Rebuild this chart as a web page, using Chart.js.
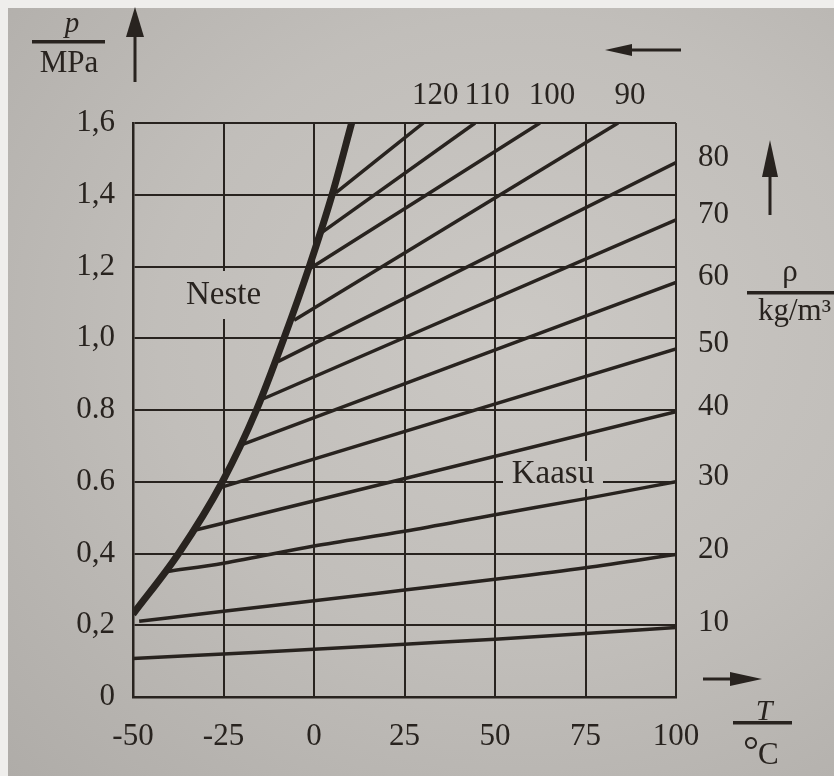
<!DOCTYPE html>
<html>
<head>
<meta charset="utf-8">
<title>p-T-kaavio</title>
<script src="https://cdn.jsdelivr.net/npm/chart.js@4.4.1/dist/chart.umd.min.js"></script>
<style>
  html, body { margin: 0; padding: 0; background: #efeeec; overflow: hidden; }
  #paper {
    position: absolute; left: 8px; top: 8px; width: 826px; height: 768px;
    background: radial-gradient(ellipse at 62% 42%, #cbc8c4 0%, #c1beba 50%, #afaca8 100%);
  }
  #chart { position: absolute; left: 0; top: 0; }
</style>
</head>
<body>
<div id="paper"></div>
<canvas id="chart" width="834" height="776"></canvas>
<script>
// axes
const xTicks = [-50, -25, 0, 25, 50, 75, 100];
const yTicks = [0, 0.2, 0.4, 0.6, 0.8, 1.0, 1.2, 1.4, 1.6];
const yTickLabels = ['0', '0,2', '0,4', '0.6', '0.8', '1,0', '1,2', '1,4', '1,6'];

// saturation curve (thick line between Neste and Kaasu)
const satT = [-50, -37.4, -25.3, -15.9, -8.3, -1.3, 5, 10.4];
const satP = [0.231, 0.4, 0.6, 0.8, 1.0, 1.2, 1.4, 1.6];

// lines of constant density, kg/m3
const rhoValues = [10, 20, 30, 40, 50, 60, 70, 80, 90, 100, 110, 120];
const isoT = [
  [-50, -25, 0, 25, 50, 75, 100],
  [-48.3, -25, 0, 25, 50, 75, 100],
  [-40.5, -25, 0, 25, 50, 75, 100],
  [-33, 100],
  [-25.5, 100],
  [-19.5, 100],
  [-14.3, 100],
  [-10, 100],
  [-5.5, 84],
  [-1, 62.4],
  [2.2, 44.5],
  [6, 30.2]
];
const isoP = [
  [0.107, 0.12, 0.133, 0.147, 0.161, 0.177, 0.194],
  [0.211, 0.239, 0.268, 0.298, 0.328, 0.36, 0.397],
  [0.35, 0.373, 0.421, 0.462, 0.508, 0.553, 0.6],
  [0.465, 0.795],
  [0.585, 0.97],
  [0.705, 1.156],
  [0.83, 1.33],
  [0.935, 1.49],
  [1.05, 1.6],
  [1.195, 1.6],
  [1.295, 1.6],
  [1.405, 1.6]
];

const ink = '#28231f';
const serif = "'Liberation Serif', 'DejaVu Serif', serif";

function toPoints(ts, ps) {
  return ts.map((t, i) => ({ x: t, y: ps[i] }));
}

const datasets = [{
  label: 'kyllästymiskäyrä',
  data: toPoints(satT, satP),
  borderColor: ink,
  borderWidth: 7,
  pointRadius: 0,
  cubicInterpolationMode: 'monotone'
}];
rhoValues.forEach((rho, i) => {
  datasets.push({
    label: rho + ' kg/m3',
    data: toPoints(isoT[i], isoP[i]),
    borderColor: ink,
    borderWidth: 3.5,
    pointRadius: 0,
    cubicInterpolationMode: 'monotone'
  });
});

function arrow(ctx, x1, y1, x2, y2, head, half) {
  // shaft from (x1,y1) towards the tip (x2,y2)
  const ang = Math.atan2(y2 - y1, x2 - x1);
  const bx = x2 - Math.cos(ang) * head;
  const by = y2 - Math.sin(ang) * head;
  ctx.beginPath();
  ctx.moveTo(x1, y1);
  ctx.lineTo(bx, by);
  ctx.stroke();
  ctx.beginPath();
  ctx.moveTo(x2, y2);
  ctx.lineTo(bx + Math.sin(ang) * half, by - Math.cos(ang) * half);
  ctx.lineTo(bx - Math.sin(ang) * half, by + Math.cos(ang) * half);
  ctx.closePath();
  ctx.fill();
}

const decorations = {
  id: 'decorations',
  beforeDatasetsDraw(chart) {
    const { ctx, scales: { x, y } } = chart;
    // region names sit on the grid, the grid is broken under them
    const nx = x.getPixelForValue(-25), ny = y.getPixelForValue(1.12);
    ctx.clearRect(nx - 45, ny - 24, 90, 48);
    const kx = x.getPixelForValue(66), ky = y.getPixelForValue(0.62);
    ctx.clearRect(kx - 50, ky - 14, 100, 28);
  },
  afterDraw(chart) {
    const { ctx, chartArea, scales: { x, y } } = chart;
    ctx.save();
    ctx.fillStyle = ink;
    ctx.strokeStyle = ink;
    ctx.textAlign = 'center';
    ctx.textBaseline = 'middle';

    ctx.font = '33px ' + serif;
    ctx.fillText('Neste', x.getPixelForValue(-25), y.getPixelForValue(1.12));
    ctx.fillText('Kaasu', x.getPixelForValue(66), y.getPixelForValue(0.62));

    // density labels at the line ends
    ctx.font = '31px ' + serif;
    rhoValues.forEach((rho, i) => {
      const ts = isoT[i], ps = isoP[i];
      const endT = ts[ts.length - 1], endP = ps[ps.length - 1];
      if (endT >= 100) {
        ctx.textAlign = 'left';
        ctx.fillText(String(rho), chartArea.right + 22, y.getPixelForValue(endP) - 5);
      } else {
        ctx.textAlign = 'center';
        ctx.fillText(String(rho), x.getPixelForValue(endT) + 12, chartArea.top - 27);
      }
    });

    // p / MPa
    ctx.textAlign = 'center';
    ctx.textBaseline = 'alphabetic';
    ctx.font = 'italic 29px ' + serif;
    ctx.fillText('p', 72, 32);
    ctx.fillRect(32, 40, 73, 3.5);
    ctx.font = '31px ' + serif;
    ctx.fillText('MPa', 69, 72);
    ctx.lineWidth = 3;
    arrow(ctx, 135, 82, 135, 7, 30, 9);

    // arrow above the top labels
    arrow(ctx, 681, 50, 605, 50, 27, 6);

    // rho / kg/m3
    ctx.fillText('\u03c1', 790, 281);
    ctx.fillRect(747, 291, 90, 3.5);
    ctx.textAlign = 'left';
    ctx.fillText('kg/m\u00b3', 758, 320);
    arrow(ctx, 770, 215, 770, 140, 37, 8);

    // T / oC
    arrow(ctx, 703, 679, 762, 679, 32, 7);
    ctx.textAlign = 'center';
    ctx.font = 'italic 30px ' + serif;
    ctx.fillText('T', 764, 720);
    ctx.fillRect(733, 721, 59, 3.5);
    ctx.textAlign = 'left';
    ctx.font = '40px ' + serif;
    ctx.fillText('\u00b0', 743, 764);
    ctx.font = '31px ' + serif;
    ctx.fillText('C', 758, 764);
    ctx.restore();
  }
};

const chart = new Chart(document.getElementById('chart'), {
  type: 'line',
  data: { datasets: datasets },
  options: {
    responsive: false,
    animation: false,
    events: [],
    layout: { padding: { left: 0, top: 123, right: 158, bottom: 0 } },
    plugins: {
      legend: { display: false },
      tooltip: { enabled: false }
    },
    scales: {
      x: {
        type: 'linear',
        min: -50,
        max: 100,
        afterBuildTicks: scale => { scale.ticks = xTicks.map(v => ({ value: v })); },
        afterFit: scale => { scale.height = 79; },
        grid: { color: ink, lineWidth: 2, drawTicks: false },
        border: { color: ink, width: 2.5 },
        ticks: {
          color: ink,
          font: { family: serif, size: 31 },
          padding: 21,
          maxRotation: 0,
          autoSkip: false,
          callback: v => String(v)
        }
      },
      y: {
        type: 'linear',
        min: 0,
        max: 1.6,
        afterBuildTicks: scale => { scale.ticks = yTicks.map(v => ({ value: v })); },
        afterFit: scale => { scale.width = 133; },
        grid: { color: ink, lineWidth: 2, drawTicks: false },
        border: { color: ink, width: 2.5 },
        ticks: {
          color: ink,
          font: { family: serif, size: 31 },
          padding: 18,
          autoSkip: false,
          callback: (v, i) => yTickLabels[i]
        }
      }
    }
  },
  plugins: [decorations]
});
</script>
</body>
</html>
